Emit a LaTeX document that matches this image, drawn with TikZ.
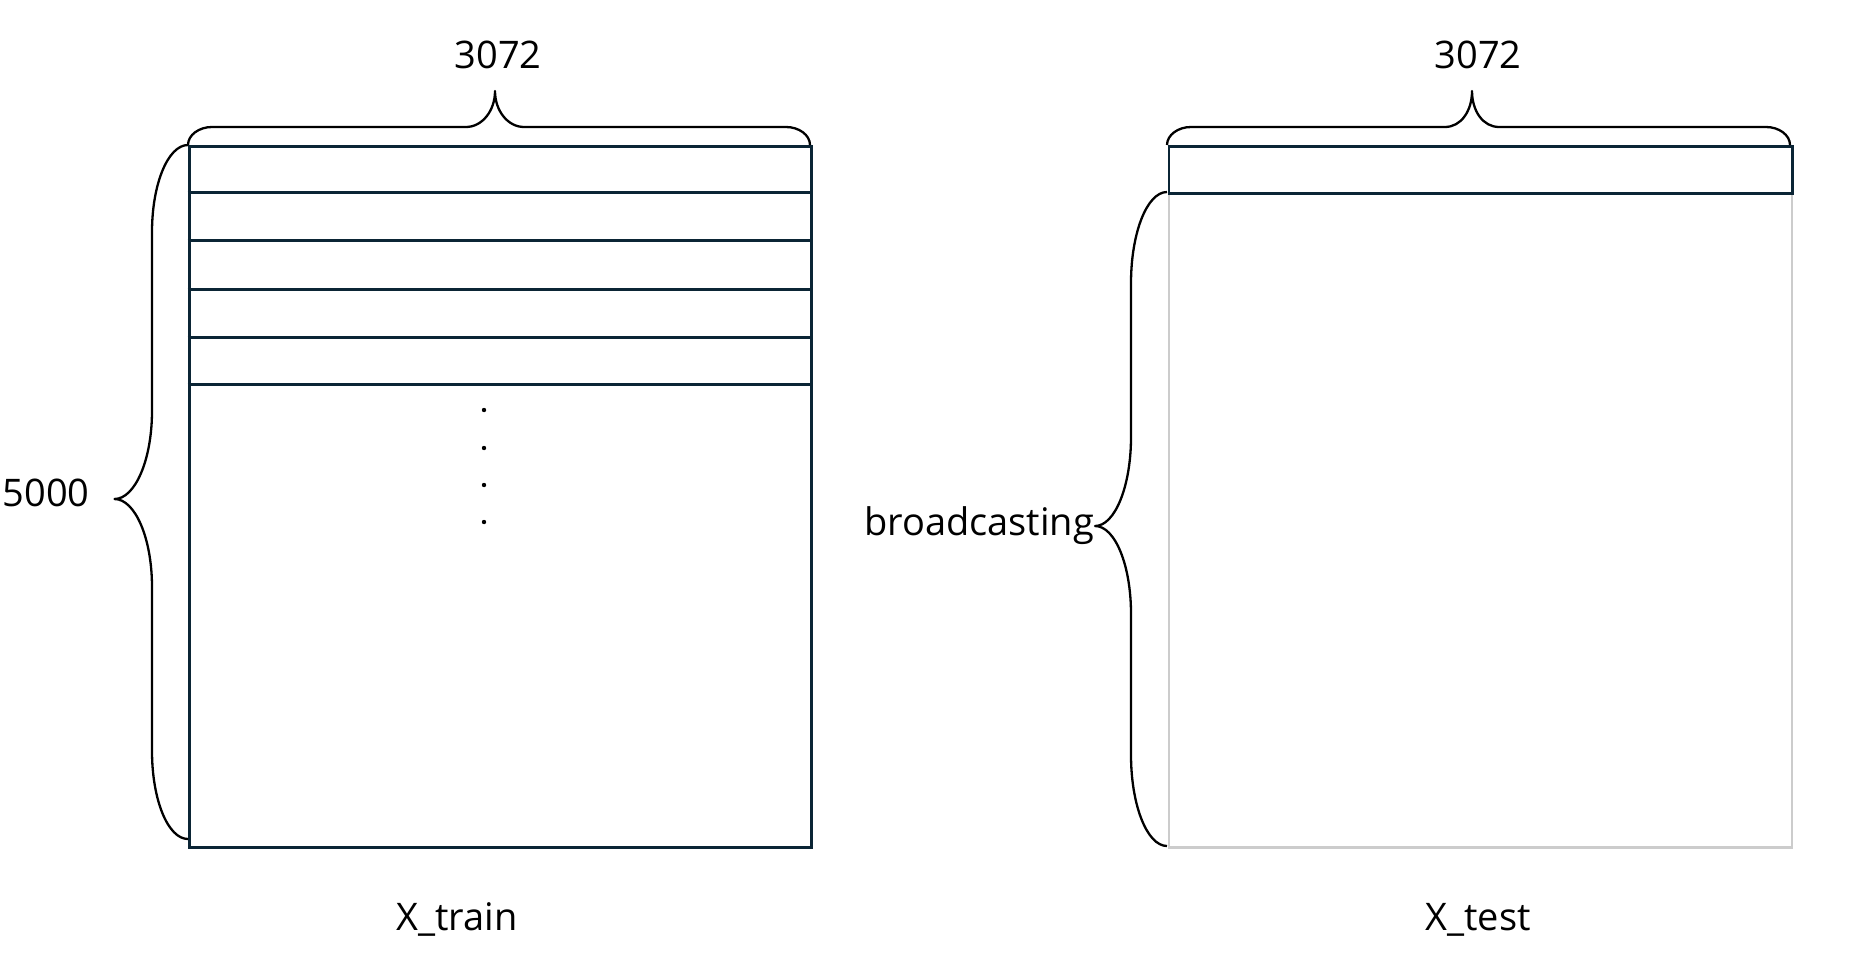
\documentclass[tikz,border=0pt]{standalone}
\usepackage{fontspec}
\setmainfont{Open Sans}
\definecolor{darkline}{HTML}{0B2535}
\definecolor{grayline}{HTML}{CCCCCC}
\tikzset{
  darkbox/.style={draw=darkline, line width=1.4pt, inner sep=0pt, anchor=north west},
  graybox/.style={draw=grayline, line width=1.1pt, inner sep=0pt, anchor=north west},
  rowline/.style={draw=darkline, line width=1.4pt},
  brace/.style={draw=black, line width=1.15pt, line join=round},
  lbl/.style={inner sep=0pt, anchor=base, font=\fontsize{19}{22}\selectfont},
  vdot/.style={circle, fill=black, inner sep=0pt, minimum size=2.2pt}
}
\begin{document}
\begin{tikzpicture}[x=0.5pt, y=-0.5pt]
\useasboundingbox (0,0) rectangle (1851,963);
\fill[white] (0,0) rectangle (1851,963);

% X_train matrix
\node[darkbox, minimum width=311pt, minimum height=350.6pt] (train) at (187.7,145.2) {};
\foreach \yy/\nm in {192.4/r1, 240.8/r2, 289.2/r3, 337.6/r4, 384.8/r5} {
  \coordinate (\nm L) at (187.7,\yy);
  \coordinate (\nm R) at (809.8,\yy);
  \draw[rowline] (\nm L) -- (\nm R);
}
\foreach \yy/\nm in {410/d1, 448/d2, 485/d3, 522/d4} {
  \node[vdot] (\nm) at (484,\yy) {};
}

% X_test matrix
\node[graybox, minimum width=311.6pt, minimum height=327pt] (testbody) at (1167.5,192.4) {};
\node[darkbox, minimum width=311.6pt, minimum height=23.6pt] (testrow) at (1167.5,145.2) {};

% braces
\draw[brace] (188,145) .. controls (188,135) and (199,127) .. (212,127) -- (466,127)
  .. controls (482,127) and (495,111) .. (495,91)
  .. controls (495,111) and (508,127) .. (524,127) -- (786,127)
  .. controls (799,127) and (810,135) .. (810,145);

\draw[brace] (1167,145) .. controls (1167,135) and (1178,127) .. (1191,127) -- (1445,127)
  .. controls (1461,127) and (1472,111) .. (1472,91)
  .. controls (1472,111) and (1483,127) .. (1499,127) -- (1766,127)
  .. controls (1779,127) and (1790,135) .. (1790,145);

\draw[brace] (188,145) .. controls (168,145) and (152,184) .. (152,232) -- (152,411)
  .. controls (152,460) and (135,499) .. (114.5,499)
  .. controls (135,499) and (152,538) .. (152,587) -- (152,751)
  .. controls (152,800) and (168,839) .. (188,839);

\draw[brace] (1167,192) .. controls (1147,192) and (1131,233) .. (1131,283) -- (1131,437)
  .. controls (1131,486) and (1115,526) .. (1095,526)
  .. controls (1115,526) and (1131,565) .. (1131,614) -- (1131,755)
  .. controls (1131,805) and (1147,846) .. (1167,846);

% labels
\node[lbl] (w1) at (498,68.3) {3072};
\node[lbl] (w2) at (1478,68.3) {3072};
\node[lbl] (h1) at (46,506.7) {5000};
\node[lbl] (bc) at (979,535) {broadcasting};
\node[lbl] (xtr) at (457,930.5) {X\_train};
\node[lbl] (xte) at (1478,930.5) {X\_test};
\end{tikzpicture}
\end{document}
